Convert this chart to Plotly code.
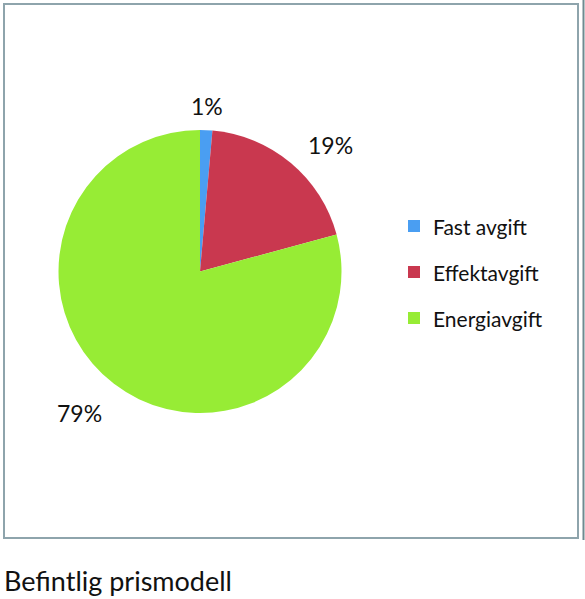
import math
import plotly.graph_objects as go

# data
labels = ["Fast avgift", "Effektavgift", "Energiavgift"]
values = [1.4, 19.4, 79.2]
colors = ["#4a9ef2", "#c9384f", "#97ec35"]
caption = "Befintlig prismodell"

W, H = 585, 599
FONT = "Lato"


def px(x):
    return x / W


def py(y):
    return 1 - y / H


# pie placement (pixels)
cx, cy, r = 200, 271.5, 141.5

fig = go.Figure(go.Pie(
    labels=labels,
    values=values,
    marker=dict(colors=colors, line=dict(width=0)),
    sort=False,
    direction="clockwise",
    rotation=0,
    textinfo="none",
    hoverinfo="label+percent",
    showlegend=False,
    domain=dict(x=[px(cx - r), px(cx + r)], y=[py(cy + r), py(cy - r)]),
))

# percent labels, placed outside each slice at its middle angle
total = sum(values)
annotations = []
cum = 0
for v in values:
    mid = (cum + v / 2) / total * 2 * math.pi
    cum += v
    s, c = math.sin(mid), math.cos(mid)
    xa = "left" if s > 0.3 else ("right" if s < -0.3 else "center")
    if c < -0.3:
        ya, rl = "top", r * 1.12
    else:
        ya, rl = "middle", r * 1.17
    annotations.append(dict(
        x=px(cx + rl * s), y=py(cy - rl * c), xref="paper", yref="paper",
        text="%d%%" % round(v / total * 100), showarrow=False,
        xanchor=xa, yanchor=ya,
        font=dict(family=FONT, size=23, color="#111111"),
    ))

# legend drawn by hand to get the wide row spacing
shapes = []
for i, (lab, col) in enumerate(zip(labels, colors)):
    yc = 226 + i * 46
    shapes.append(dict(type="rect", xref="paper", yref="paper",
                       x0=px(408), x1=px(420), y0=py(yc - 6), y1=py(yc + 6),
                       fillcolor=col, line=dict(width=0)))
    annotations.append(dict(
        x=px(431), y=py(yc), xref="paper", yref="paper", text=lab,
        showarrow=False, xanchor="left", yanchor="middle",
        font=dict(family=FONT, size=21, color="#111111"),
    ))

# chart frame and the edge of the neighbouring frame
shapes.append(dict(type="rect", xref="paper", yref="paper",
                   x0=px(4), x1=px(578), y0=py(538), y1=py(4),
                   line=dict(color="#8ea4ac", width=2)))
shapes.append(dict(type="line", xref="paper", yref="paper",
                   x0=px(583.5), x1=px(583.5), y0=py(540), y1=py(0),
                   line=dict(color="#6f8a90", width=2)))

annotations.append(dict(
    x=px(2), y=py(580), xref="paper", yref="paper", text=caption,
    showarrow=False, xanchor="left", yanchor="middle",
    font=dict(family=FONT, size=27, color="#111111"),
))

fig.update_layout(
    width=W, height=H,
    margin=dict(l=0, r=0, t=0, b=0),
    paper_bgcolor="white",
    plot_bgcolor="white",
    shapes=shapes,
    annotations=annotations,
)

# drop the browser's default page margin so the figure sits at 0,0
fig.write_html("out.html", config={"displayModeBar": False},
               post_script="document.body.style.margin='0';")
